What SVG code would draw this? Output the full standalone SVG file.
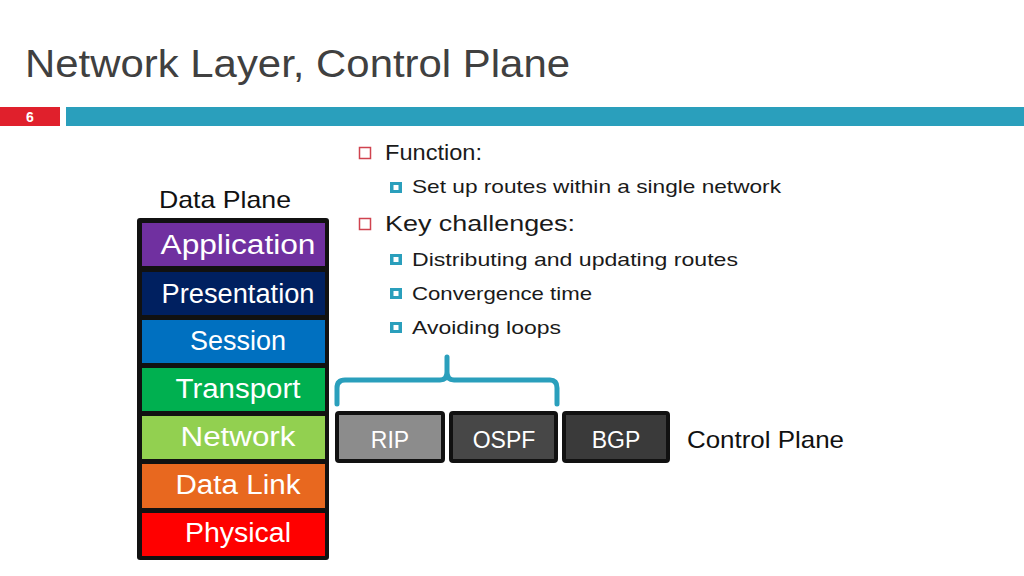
<svg xmlns="http://www.w3.org/2000/svg" width="1024" height="576" viewBox="0 0 1024 576">
<style>
text{font-family:"Liberation Sans","DejaVu Sans",sans-serif}
.title{font-size:38px;fill:#404040}
.layer{font-size:27px;fill:#ffffff;text-anchor:middle}
.b1{font-size:22px;fill:#1a1a1a}
.b2{font-size:19px;fill:#1a1a1a}
.box{font-size:23px;fill:#ffffff;text-anchor:middle}
.lbl{font-size:24px;fill:#111111}
.sq1{fill:none;stroke:#d0434f;stroke-width:1.5}
.sq2{fill:#2a9fbc}
.bk{fill:#111111}
</style>
<rect width="1024" height="576" fill="#ffffff"/>
<g id="header">
<text class="title" x="25" y="77" textLength="545" lengthAdjust="spacingAndGlyphs">Network Layer, Control Plane</text>
<rect x="0" y="107" width="60" height="19" fill="#e0202c"/>
<rect x="66" y="107" width="958" height="19" fill="#2a9fbc"/>
<text x="30" y="122" font-size="14" font-weight="bold" fill="#ffffff" text-anchor="middle">6</text>
</g>
<g id="bullets">
<rect class="sq1" x="359.5" y="147.5" width="11" height="11"/>
<text class="b1" x="385" y="160" textLength="97" lengthAdjust="spacingAndGlyphs">Function:</text>
<rect class="sq2" x="390" y="182" width="12" height="11"/><rect x="393.5" y="185" width="5" height="5" fill="#fff"/>
<text class="b2" x="412" y="193" textLength="369" lengthAdjust="spacingAndGlyphs">Set up routes within a single network</text>
<rect class="sq1" x="359.5" y="218.5" width="11" height="11"/>
<text class="b1" x="385" y="231" textLength="190" lengthAdjust="spacingAndGlyphs">Key challenges:</text>
<rect class="sq2" x="390" y="254" width="12" height="11"/><rect x="393.5" y="257" width="5" height="5" fill="#fff"/>
<text class="b2" x="412" y="266" textLength="326" lengthAdjust="spacingAndGlyphs">Distributing and updating routes</text>
<rect class="sq2" x="390" y="288" width="12" height="11"/><rect x="393.5" y="291" width="5" height="5" fill="#fff"/>
<text class="b2" x="412" y="300" textLength="180" lengthAdjust="spacingAndGlyphs">Convergence time</text>
<rect class="sq2" x="390" y="322" width="12" height="11"/><rect x="393.5" y="325" width="5" height="5" fill="#fff"/>
<text class="b2" x="412" y="334" textLength="149" lengthAdjust="spacingAndGlyphs">Avoiding loops</text>
</g>
<g id="data-plane">
<text class="lbl" x="159" y="208" textLength="132" lengthAdjust="spacingAndGlyphs">Data Plane</text>
<rect class="bk" x="137" y="218" width="192" height="342" rx="3"/>
<g id="application"><rect x="142" y="223" width="183" height="43" fill="#7030a0"/><text class="layer" x="238" y="254" textLength="155" lengthAdjust="spacingAndGlyphs">Application</text></g>
<g id="presentation"><rect x="142" y="272" width="183" height="43" fill="#002060"/><text class="layer" x="238" y="303" textLength="153" lengthAdjust="spacingAndGlyphs">Presentation</text></g>
<g id="session"><rect x="142" y="320" width="183" height="43" fill="#0070c0"/><text class="layer" x="238" y="350" textLength="96" lengthAdjust="spacingAndGlyphs">Session</text></g>
<g id="transport"><rect x="142" y="368" width="183" height="43" fill="#00b050"/><text class="layer" x="238" y="398" textLength="125" lengthAdjust="spacingAndGlyphs">Transport</text></g>
<g id="network"><rect x="142" y="416" width="183" height="43" fill="#92d050"/><text class="layer" x="238" y="446" textLength="115" lengthAdjust="spacingAndGlyphs">Network</text></g>
<g id="datalink"><rect x="142" y="464" width="183" height="44" fill="#e8681f"/><text class="layer" x="238" y="494" textLength="125" lengthAdjust="spacingAndGlyphs">Data Link</text></g>
<g id="physical"><rect x="142" y="513" width="183" height="43" fill="#ff0000"/><text class="layer" x="238" y="542" textLength="106" lengthAdjust="spacingAndGlyphs">Physical</text></g>
</g>
<g id="connectors">
<path d="M337 404 V388 Q337 380 345 380 H440 Q447 380 447 372 V357 M447 372 Q447 380 454 380 H550 Q557 380 557 388 V404" fill="none" stroke="#2a9fbc" stroke-width="5" stroke-linecap="round" stroke-linejoin="round"/>
</g>
<g id="rip"><rect x="337" y="413" width="106" height="48" fill="#8c8c8c" stroke="#111" stroke-width="4" rx="2"/><text class="box" x="390" y="448">RIP</text></g>
<g id="ospf"><rect x="451" y="413" width="105" height="48" fill="#474747" stroke="#111" stroke-width="4" rx="2"/><text class="box" x="504" y="448">OSPF</text></g>
<g id="bgp"><rect x="564" y="413" width="104" height="48" fill="#3a3a3a" stroke="#111" stroke-width="4" rx="2"/><text class="box" x="616" y="448">BGP</text></g>
<g id="control-plane"><text class="lbl" x="687" y="448" textLength="157" lengthAdjust="spacingAndGlyphs">Control Plane</text></g>
</svg>
